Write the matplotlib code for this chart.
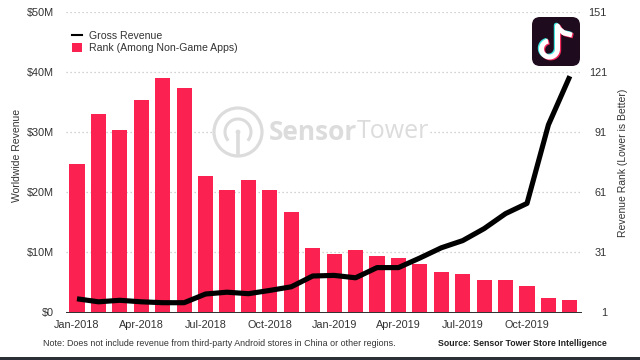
import numpy as np
import matplotlib
matplotlib.use('Agg')
import matplotlib.pyplot as plt
from matplotlib.lines import Line2D
from matplotlib.patches import Circle, FancyBboxPatch, Patch, Rectangle

plt.rcParams['font.family'] = ['Liberation Sans', 'DejaVu Sans']

# ── Data ──────────────────────────────────────────────────────────────────────
months = ['Jan-2018', 'Feb-2018', 'Mar-2018', 'Apr-2018', 'May-2018', 'Jun-2018',
          'Jul-2018', 'Aug-2018', 'Sep-2018', 'Oct-2018', 'Nov-2018', 'Dec-2018',
          'Jan-2019', 'Feb-2019', 'Mar-2019', 'Apr-2019', 'May-2019', 'Jun-2019',
          'Jul-2019', 'Aug-2019', 'Sep-2019', 'Oct-2019', 'Nov-2019', 'Dec-2019']
revenue = [2.2, 1.7, 1.95, 1.7, 1.55, 1.55, 3.0, 3.3, 3.05, 3.6, 4.2, 6.0,
           6.1, 5.7, 7.4, 7.4, 9.0, 10.7, 11.9, 13.9, 16.4, 18.1, 31.2, 39.3]
rank = [75, 100, 92, 107, 118, 113, 69, 62, 67, 62, 51, 33,
        30, 32, 29, 28, 25, 21, 20, 17, 17, 14, 8, 7]
revenue_ticks = [0, 10, 20, 30, 40, 50]
revenue_labels = ['$0', '$10M', '$20M', '$30M', '$40M', '$50M']
rank_ticks = [1, 31, 61, 91, 121, 151]

PINK = '#FB2150'
TEXT = '#333333'
MARK = '#DCDCDC'
W, H = 640, 360

fig = plt.figure(figsize=(6.4, 3.6), dpi=100, facecolor='white')
rect = [66 / W, (H - 312) / H, 515 / W, 300 / H]

# bars and grid sit on the rank axis, the revenue line goes on top
ax_rank = fig.add_axes(rect)
ax = ax_rank.twinx()
ax.set_zorder(ax_rank.get_zorder() + 1)
ax.patch.set_visible(False)

x = np.arange(len(months))
ax_rank.bar(x, rank, width=0.71, color=PINK, linewidth=0)
ax_rank.set_ylim(1, 151)
ax_rank.set_xlim(-0.513, 23.52)
ax_rank.set_yticks(rank_ticks)
ax_rank.yaxis.tick_right()
ax_rank.set_axisbelow(True)
ax_rank.grid(axis='y', color='#C4C4C4', linewidth=0.9, linestyle=(0, (1, 2.2)))
ax_rank.tick_params(axis='y', length=0, pad=18.7, labelsize=7.8, labelcolor=TEXT)
for lab in ax_rank.get_yticklabels():
    lab.set_horizontalalignment('right')
ax_rank.set_xticks(x[::3])
ax_rank.set_xticklabels(months[::3])
ax_rank.tick_params(axis='x', length=0, pad=5.5, labelsize=7.8, labelcolor=TEXT)

ax.plot(x, revenue, color='black', linewidth=3.7, solid_capstyle='butt',
        solid_joinstyle='round')
ax.set_ylim(0, 50)
ax.set_yticks(revenue_ticks)
ax.set_yticklabels(revenue_labels)
ax.yaxis.tick_left()
ax.tick_params(axis='y', length=0, pad=8.6, labelsize=7.8, labelcolor=TEXT)

for a in (ax_rank, ax):
    for side in ('top', 'left', 'right'):
        a.spines[side].set_visible(False)
    a.spines['bottom'].set_color('#333333')
    a.spines['bottom'].set_linewidth(0.7)

handles = [Line2D([0], [0], color='black', linewidth=1.5),
           Patch(facecolor=PINK, linewidth=0)]
ax.legend(handles, ['Gross Revenue', 'Rank (Among Non-Game Apps)'],
          loc='upper left', bbox_to_anchor=(6 / 515, 1 - 18.5 / 300),
          frameon=False, fontsize=7.55, labelcolor=TEXT, borderpad=0, borderaxespad=0,
          handlelength=0.95, handleheight=1.0, handletextpad=0.68, labelspacing=0.2)

# ── Overlay in pixel coordinates: watermark, app icon, footer ─────────────────
ov = fig.add_axes([0, 0, 1, 1], zorder=5)
ov.set_xlim(0, W)
ov.set_ylim(H, 0)
ov.axis('off')

# watermark, white box hides the grid line behind it
ov.add_patch(Rectangle((212, 105), 216, 55, facecolor='white', linewidth=0))
ov.add_patch(Circle((238, 132), 24, fill=False, edgecolor=MARK, linewidth=2.3))
t = np.radians(np.linspace(-215, 35, 40))
ov.plot(238 + 13 * np.cos(t), 132 + 13 * np.sin(t), color=MARK, linewidth=2.2)
ov.plot([238, 238], [132, 155], color=MARK, linewidth=2.6, solid_capstyle='butt')
ov.add_patch(Circle((238, 132), 2.4, facecolor=MARK, linewidth=0))
ov.text(269, 132, 'Sensor', family='Open Sans', fontweight='bold', fontsize=19,
        color=MARK, ha='left', va='center')
ov.text(357, 132, 'Tower', family='Open Sans', fontsize=18, color=MARK,
        ha='left', va='center')

# app icon
ov.add_patch(FancyBboxPatch((535, 20), 42, 43, boxstyle='round,pad=3,rounding_size=8',
                            facecolor='#1F0B1E', linewidth=0))
arc = np.radians(np.linspace(260, 0, 40))
note_x = list(549.5 + 8 * np.cos(arc)) + [557.5, 557.5, 559, 564, 572]
note_y = list(49 + 8 * np.sin(arc)) + [49, 26, 29, 33, 35]
for dx, dy, col in ((-1.2, -0.8, '#3FE6E0'), (1.2, 0.9, '#F2295B'), (0, 0, 'white')):
    ov.plot(np.array(note_x) + dx, np.array(note_y) + dy, color=col, linewidth=3.6,
            solid_capstyle='butt', solid_joinstyle='round')

# footer and axis titles
ov.text(43, 343.5, 'Note: Does not include revenue from third-party Android stores in China or other regions.',
        fontsize=6.4, color=TEXT, ha='left', va='center')
ov.text(607, 343.5, 'Source: Sensor Tower Store Intelligence', fontsize=6.27,
        fontweight='bold', color='#222222', ha='right', va='center')
ov.text(17, 155, 'Worldwide Revenue', rotation=90, fontsize=7.45, color=TEXT,
        ha='center', va='center')
ov.text(623, 163, 'Revenue Rank (Lower is Better)', rotation=90, fontsize=7.45,
        color=TEXT, ha='center', va='center')
ov.add_patch(Rectangle((0, 357), W, 3, facecolor='#2B2F36', linewidth=0))

fig.savefig('out.png', dpi=100)
